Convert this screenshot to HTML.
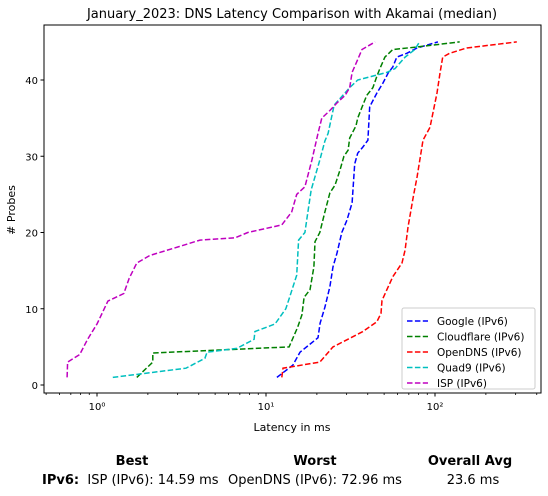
<!DOCTYPE html>
<html><head><meta charset="utf-8"><style>
body{margin:0;background:#fff;font-family:"Liberation Sans","DejaVu Sans",sans-serif;}
svg{display:block}
</style></head><body>
<svg id="chart" width="548" height="496" xmlns="http://www.w3.org/2000/svg" font-family="DejaVu Sans, Liberation Sans, sans-serif">
<text x="292" y="18" font-size="13" text-anchor="middle">January_2023: DNS Latency Comparison with Akamai (median)</text>
<g id="plot"></g>
<text x="292" y="431" font-size="11" text-anchor="middle">Latency in ms</text>
<text x="15" y="210" font-size="11" text-anchor="middle" transform="rotate(-90 15 210)"># Probes</text>
<g font-size="13">
<text x="132" y="465" font-weight="bold" text-anchor="middle">Best</text>
<text x="315" y="465" font-weight="bold" text-anchor="middle">Worst</text>
<text x="470" y="465" font-weight="bold" text-anchor="middle">Overall Avg</text>
<text x="42" y="484" font-weight="bold">IPv6:</text>
<text x="153" y="484" text-anchor="middle">ISP (IPv6): 14.59 ms</text>
<text x="315" y="484" text-anchor="middle">OpenDNS (IPv6): 72.96 ms</text>
<text x="473" y="484" text-anchor="middle">23.6 ms</text>
</g>
</svg>
<script>
const seriesNames=["Google (IPv6)","Cloudflare (IPv6)","OpenDNS (IPv6)","Quad9 (IPv6)","ISP (IPv6)"];
const googleMs=[11.6,14.4,15.9,20.3,20.9,22.3,23.9,24.9,26.3,28.1,30.1,32.3,33.5,34.9,37.4,40.1,41.1,45.3,49.2,52.8,56.3,59.4,68.1,78.4,104];
const googleProbes=[1,2.6,4.3,6.2,8.1,10.2,12.9,15.5,17.3,20,21.6,23.9,29,30.4,31.2,32.1,36.5,38.3,39.6,40.9,41.7,43,43.5,44.2,45];
const cloudflareMs=[1.72,2.14,2.14,13.7,15.4,16.3,16.8,18.2,19.2,19.5,20.8,22.3,23.9,25.6,27.4,28.9,30.6,31.3,34.1,34.9,37.4,39.5,42.9,45.3,47.2,50.5,56.3,76,140];
const cloudflareProbes=[1,3,4.2,5,7.6,9.2,11.5,12.5,15.5,18.8,20,22.7,25.2,26.2,28.2,30,30.8,32.4,34,35,36.7,38,39,40.5,41.5,43,44,44.3,45];
const opendnsMs=[12.4,12.6,20.8,24.9,37.4,45.3,47.9,48.6,56.3,63.8,66.5,69.2,74.4,78.4,84.9,93.4,102.8,107,111,122,154,305];
const opendnsProbes=[1,2.2,3,5,7,8.3,9.4,11.1,14.2,16,17.7,20.7,24.7,27.3,32.1,33.8,38.3,40.9,43,43.5,44.2,45];
const quad9Ms=[1.24,3.36,4.35,4.48,6.72,8.5,8.6,11.3,13.1,13.8,15.2,15.6,17.0,17.7,18.5,19.6,20.8,22.3,23.3,24.9,25.3,28.5,31.3,34.9,51.9,58,66.5,76,81];
const quad9Probes=[1,2.2,3.5,4.3,4.8,6,7,8,10,11.5,14.4,19,20,22.7,25.6,27.5,29.5,32,33,36,36.7,38,39,40,41,41.5,43,44,45];
const ispMs=[0.665,0.67,0.79,0.88,1,1.16,1.44,1.55,1.72,2.06,2.9,4.07,6.56,7.8,12.4,14.2,15.2,17.0,18.7,20.3,21.4,23.9,26.3,29.4,31.3,32.3,34.6,37.0,44.2];
const ispProbes=[1,3,4,6,8,11,12,14,16,17,18,19,19.3,20,21,22.7,25,26,29.5,33,35,36,37,38,39,41,42.5,44,45];
const yTicks=[0,10,20,30,40];
const xTickLabels=["10⁰","10¹","10²"];
const xTickValues=[1,10,100];

const NS="http://www.w3.org/2000/svg";
const L=44,R=541,T=25,B=393;
const x=v=>97+169*Math.log10(v);
const y=p=>385-7.625*p;
const g=document.getElementById('plot');
function mk(tag,attrs,parent){const e=document.createElementNS(NS,tag);for(const k in attrs)e.setAttribute(k,attrs[k]);(parent||g).appendChild(e);return e;}
const clip=mk('clipPath',{id:'clp'});mk('rect',{x:L,y:T,width:R-L,height:B-T},clip);
const colors=["#0000ff","#008000","#ff0000","#00bfbf","#bf00bf"];
const data=[[googleMs,googleProbes],[cloudflareMs,cloudflareProbes],[opendnsMs,opendnsProbes],[quad9Ms,quad9Probes],[ispMs,ispProbes]];
const ids=["google","cloudflare","opendns","quad9","isp"];
data.forEach((d,i)=>{
  const pts=d[0].map((v,j)=>x(v).toFixed(1)+","+y(d[1][j]).toFixed(1)).join(" ");
  const pl=mk('polyline',{points:pts,fill:'none',stroke:colors[i],'stroke-width':1.5,'stroke-dasharray':'5.5,2.4','clip-path':'url(#clp)'});
  
  
});
mk('rect',{x:L,y:T,width:R-L,height:B-T,fill:'none',stroke:'#000','stroke-width':1});
yTicks.forEach(t=>{
  const yy=y(t);
  mk('line',{x1:L-3.5,x2:L,y1:yy,y2:yy,stroke:'#000'});
  const tx=mk('text',{x:L-6,y:yy+4,'font-size':10,'text-anchor':'end'});tx.textContent=t;
  
  
});
xTickValues.forEach((v,i)=>{
  const xx=x(v);
  mk('line',{x1:xx,x2:xx,y1:B,y2:B+3.5,stroke:'#000'});
  const tx=mk('text',{x:xx,y:B+17,'font-size':10,'text-anchor':'middle'});tx.textContent=xTickLabels[i];
  
  
});
for(let e=-1;e<=2;e++)for(let m=2;m<=9;m++){const xx=x(m*Math.pow(10,e));if(xx>L&&xx<R)mk('line',{x1:xx,x2:xx,y1:B,y2:B+2,stroke:'#000','stroke-width':0.8});}
const lg=mk('g',{});


mk('rect',{x:402,y:308,width:133,height:81,fill:'#fff','fill-opacity':0.85,stroke:'#ccc',rx:2},lg);
seriesNames.forEach((n,i)=>{
  const yy=321+i*15.5;
  mk('line',{x1:407,x2:428,y1:yy,y2:yy,stroke:colors[i],'stroke-width':1.5,'stroke-dasharray':'5.5,2.4'},lg);
  const tx=mk('text',{x:437,y:yy+4,'font-size':10.5},lg);tx.textContent=n;
  
  
});
</script>
</body></html>
